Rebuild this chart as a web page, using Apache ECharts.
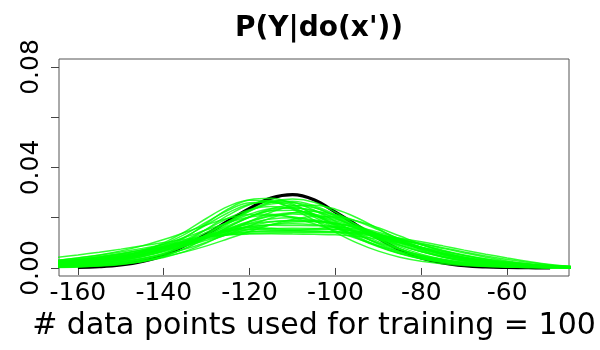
<!DOCTYPE html>
<html>
<head>
<meta charset="utf-8">
<script src="https://cdn.jsdelivr.net/npm/echarts@6/dist/echarts.min.js"></script>
<style>
html,body{margin:0;padding:0;background:#fff;}
#chart{width:600px;height:350px;}
</style>
</head>
<body>
<div id="chart"></div>
<script>
// ---- data ----
const titleText = "P(Y|do(x'))";
const xLabelText = "# data points used for training = 100";
const xTickLabels = [-160, -140, -120, -100, -80, -60];
const yTickLabels = [0, 0.04, 0.08];
const yTicks = [0, 0.02, 0.04, 0.06, 0.08];

// true interventional density (black)
const trueX = [-160,-155,-150,-145,-140,-135,-130,-125,-120,-115,-110,-105,-100,-95,-90,-85,-80,-75,-70,-65,-60,-55,-50];
const trueY = [0.0002,0.0005,0.0012,0.0026,0.0050,0.0090,0.0135,0.0187,0.0237,0.0278,0.0292,0.0272,0.0222,0.0170,0.0118,0.0072,0.0040,0.0020,0.0009,0.0004,0.0002,0.0001,0.0000];

// estimated densities (green), all on this grid
const estX = [-165,-160,-155,-150,-145,-140,-135,-130,-125,-120,-115,-110,-105,-100,-95,-90,-85,-80,-75,-70,-65,-60,-55,-50,-45];
const est01 = [.0012,.0016,.0022,.0030,.0045,.0068,.0105,.0155,.0210,.0252,.0270,.0262,.0230,.0185,.0138,.0095,.0062,.0040,.0026,.0017,.0011,.0007,.0004,.0003,.0002];
const est02 = [.0010,.0015,.0022,.0033,.0052,.0080,.0122,.0178,.0235,.0272,.0278,.0255,.0212,.0165,.0122,.0086,.0058,.0038,.0024,.0015,.0009,.0006,.0004,.0002,.0001];
const est03 = [.0004,.0006,.0010,.0016,.0026,.0042,.0066,.0100,.0142,.0185,.0222,.0246,.0250,.0234,.0200,.0155,.0110,.0072,.0045,.0027,.0016,.0009,.0005,.0003,.0002];
const est04 = [.0008,.0012,.0017,.0025,.0038,.0058,.0090,.0135,.0184,.0228,.0255,.0260,.0242,.0205,.0160,.0115,.0077,.0049,.0030,.0018,.0011,.0007,.0004,.0002,.0001];
const est05 = [.0020,.0026,.0034,.0045,.0062,.0088,.0125,.0172,.0220,.0255,.0265,.0250,.0215,.0170,.0126,.0088,.0058,.0037,.0023,.0014,.0009,.0005,.0003,.0002,.0001];
const est06 = [.0006,.0010,.0016,.0025,.0038,.0058,.0086,.0122,.0163,.0204,.0236,.0250,.0240,.0208,.0165,.0122,.0084,.0055,.0035,.0022,.0014,.0009,.0006,.0004,.0002];
const est07 = [.0015,.0021,.0029,.0040,.0056,.0078,.0107,.0142,.0180,.0214,.0236,.0240,.0226,.0198,.0162,.0125,.0092,.0065,.0044,.0029,.0019,.0012,.0008,.0005,.0003];
const est08 = [.0005,.0008,.0013,.0021,.0034,.0055,.0088,.0132,.0183,.0230,.0262,.0266,.0248,.0212,.0172,.0134,.0101,.0074,.0052,.0036,.0024,.0016,.0010,.0006,.0004];
const est09 = [.0012,.0019,.0029,.0044,.0067,.0100,.0145,.0198,.0245,.0270,.0266,.0235,.0190,.0142,.0100,.0067,.0043,.0027,.0017,.0010,.0006,.0004,.0002,.0001,.0001];
const est10 = [.0002,.0004,.0008,.0014,.0026,.0046,.0078,.0124,.0176,.0225,.0262,.0275,.0262,.0222,.0170,.0118,.0076,.0045,.0025,.0013,.0007,.0004,.0002,.0001,.0001];
const est11 = [.0013,.0019,.0027,.0038,.0053,.0073,.0099,.0128,.0158,.0186,.0210,.0220,.0214,.0194,.0164,.0130,.0097,.0069,.0047,.0031,.0020,.0012,.0007,.0004,.0002];
const est12 = [.0025,.0033,.0043,.0056,.0073,.0095,.0122,.0152,.0180,.0203,.0210,.0204,.0186,.0160,.0130,.0100,.0073,.0051,.0034,.0022,.0014,.0009,.0005,.0003,.0002];
const est13 = [.0006,.0009,.0014,.0021,.0031,.0045,.0064,.0088,.0116,.0145,.0172,.0193,.0205,.0203,.0187,.0160,.0127,.0094,.0065,.0042,.0026,.0015,.0009,.0005,.0003];
const est14 = [.0010,.0015,.0022,.0032,.0047,.0068,.0096,.0130,.0168,.0203,.0228,.0230,.0212,.0180,.0142,.0105,.0074,.0050,.0033,.0021,.0013,.0008,.0005,.0003,.0002];
const est15 = [.0020,.0027,.0036,.0048,.0063,.0081,.0102,.0125,.0148,.0168,.0183,.0190,.0188,.0177,.0158,.0134,.0108,.0083,.0061,.0043,.0029,.0019,.0012,.0007,.0004];
const est16 = [.0030,.0040,.0052,.0068,.0088,.0113,.0142,.0172,.0198,.0213,.0214,.0200,.0176,.0147,.0117,.0089,.0065,.0045,.0030,.0019,.0012,.0007,.0004,.0002,.0001];
const est17 = [.0008,.0012,.0018,.0026,.0037,.0053,.0075,.0103,.0135,.0168,.0199,.0220,.0225,.0212,.0186,.0152,.0115,.0082,.0055,.0035,.0022,.0013,.0008,.0005,.0003];
const est18 = [.0018,.0024,.0032,.0043,.0057,.0076,.0100,.0127,.0154,.0178,.0195,.0200,.0192,.0172,.0146,.0117,.0089,.0065,.0046,.0031,.0021,.0013,.0008,.0005,.0003];
const est19 = [.0003,.0005,.0009,.0016,.0028,.0048,.0078,.0118,.0162,.0202,.0230,.0240,.0230,.0200,.0158,.0113,.0075,.0046,.0026,.0014,.0008,.0004,.0002,.0001,.0001];
const est20 = [.0024,.0031,.0040,.0052,.0066,.0083,.0103,.0124,.0145,.0162,.0173,.0176,.0172,.0161,.0144,.0123,.0100,.0078,.0058,.0041,.0028,.0018,.0011,.0007,.0004];
const est21 = [.0030,.0040,.0051,.0064,.0078,.0093,.0108,.0122,.0132,.0138,.0140,.0140,.0141,.0140,.0134,.0123,.0110,.0095,.0078,.0060,.0043,.0028,.0017,.0009,.0005];
const est22 = [.0022,.0030,.0040,.0052,.0067,.0084,.0104,.0126,.0145,.0155,.0153,.0150,.0152,.0154,.0146,.0128,.0105,.0081,.0060,.0043,.0030,.0020,.0013,.0008,.0005];
const est23 = [.0015,.0021,.0029,.0040,.0054,.0072,.0095,.0122,.0148,.0165,.0170,.0169,.0168,.0165,.0152,.0130,.0103,.0077,.0055,.0038,.0025,.0016,.0010,.0006,.0003];
const est24 = [.0042,.0052,.0063,.0075,.0088,.0101,.0114,.0125,.0132,.0135,.0136,.0135,.0134,.0132,.0126,.0115,.0100,.0083,.0066,.0050,.0036,.0025,.0016,.0010,.0006];
const est25 = [.0018,.0025,.0034,.0046,.0061,.0080,.0103,.0128,.0150,.0162,.0158,.0152,.0156,.0162,.0156,.0137,.0110,.0082,.0058,.0040,.0027,.0017,.0010,.0006,.0003];
const est26 = [.0012,.0018,.0026,.0036,.0050,.0068,.0092,.0121,.0152,.0175,.0185,.0187,.0185,.0177,.0160,.0134,.0104,.0076,.0053,.0035,.0023,.0014,.0008,.0005,.0003];
const est27 = [.0020,.0027,.0036,.0047,.0061,.0077,.0096,.0116,.0133,.0143,.0146,.0145,.0144,.0143,.0139,.0130,.0118,.0104,.0088,.0071,.0055,.0040,.0026,.0014,.0006];
const est28 = [.0014,.0020,.0028,.0039,.0055,.0079,.0112,.0154,.0198,.0232,.0245,.0236,.0210,.0174,.0135,.0098,.0067,.0044,.0028,.0018,.0011,.0007,.0004,.0002,.0001];
const est29 = [.0016,.0022,.0030,.0040,.0053,.0069,.0088,.0110,.0133,.0155,.0172,.0183,.0185,.0178,.0163,.0142,.0117,.0092,.0069,.0049,.0033,.0021,.0013,.0008,.0005];
const est30 = [.0026,.0034,.0044,.0056,.0070,.0086,.0104,.0123,.0140,.0152,.0157,.0158,.0157,.0154,.0146,.0132,.0113,.0092,.0071,.0052,.0036,.0024,.0015,.0009,.0005];
const est31 = [.0016,.0023,.0032,.0046,.0066,.0095,.0135,.0183,.0230,.0260,.0262,.0240,.0203,.0160,.0119,.0084,.0056,.0036,.0023,.0014,.0009,.0005,.0003,.0002,.0001];
const est32 = [.0010,.0015,.0022,.0031,.0045,.0064,.0090,.0121,.0154,.0184,.0206,.0215,.0209,.0188,.0158,.0124,.0091,.0064,.0043,.0028,.0018,.0011,.0007,.0004,.0002];
const est33 = [.0028,.0036,.0046,.0058,.0072,.0088,.0105,.0122,.0136,.0145,.0148,.0148,.0147,.0145,.0139,.0128,.0114,.0098,.0081,.0064,.0048,.0034,.0022,.0012,.0006];
const estimates = [est01,est02,est03,est04,est05,est06,est07,est08,est09,est10,est11,est12,est13,est14,est15,est16,est17,est18,est19,est20,est21,est22,est23,est24,est25,est26,est27,est28,est29,est30,est31,est32,est33];

// ---- chart ----
const chart = echarts.init(document.getElementById('chart'), null, {renderer: 'canvas'});
const FONT = 'DejaVu Sans';

const series = [];
series.push({
  type: 'line',
  data: trueX.map((x, i) => [x, trueY[i]]),
  showSymbol: false, symbol: 'none',
  smooth: 0.4,
  lineStyle: {color: '#000000', width: 3.2},
  z: 2, silent: true, clip: true
});
estimates.forEach(arr => {
  series.push({
    type: 'line',
    data: estX.map((x, i) => [x, arr[i]]),
    showSymbol: false, symbol: 'none',
    smooth: 0.4,
    lineStyle: {color: '#00ff00', width: 1.5, opacity: 0.8},
    z: 3, silent: true, clip: true
  });
});

chart.setOption({
  animation: false,
  backgroundColor: '#ffffff',
  title: {
    text: titleText,
    left: 314, textAlign: 'center', top: 10,
    textStyle: {fontFamily: FONT, fontWeight: 'bold', fontSize: 28, color: '#000'}
  },
  grid: {
    left: 59, right: 31, top: 59, bottom: 74,
    show: true, borderColor: '#555', borderWidth: 1, backgroundColor: 'transparent'
  },
  xAxis: {
    type: 'value', min: -164.4, max: -45.6,
    name: xLabelText, nameLocation: 'middle', nameGap: 24,
    nameTextStyle: {fontFamily: FONT, fontSize: 30, color: '#000'},
    axisLine: {show: false},
    splitLine: {show: false},
    axisTick: {show: true, inside: false, length: 7, customValues: xTickLabels, lineStyle: {color: '#444', width: 1}},
    axisLabel: {show: true, customValues: xTickLabels, margin: 5, fontFamily: FONT, fontSize: 25, color: '#000',
      formatter: v => String(v)}
  },
  yAxis: {
    type: 'value', min: -0.0032, max: 0.0832,
    axisLine: {show: false},
    splitLine: {show: false},
    axisTick: {show: true, inside: false, length: 8, customValues: yTicks, lineStyle: {color: '#444', width: 1}},
    axisLabel: {show: true, customValues: yTickLabels, rotate: 90, margin: 15, fontFamily: FONT, fontSize: 25, color: '#000',
      formatter: v => Number(v).toFixed(2)}
  },
  series: series
});
</script>
</body>
</html>
